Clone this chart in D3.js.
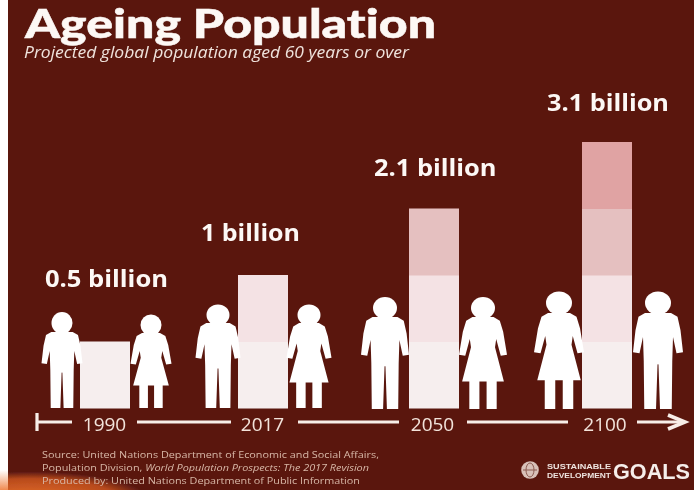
<!DOCTYPE html>
<html><head><meta charset="utf-8">
<script src="https://cdn.jsdelivr.net/npm/d3@7/dist/d3.min.js"></script>
<style>html,body{margin:0;padding:0;background:#fff}svg{display:block}</style>
</head><body><div id="chart"></div>
<script>
const years = ["1990","2017","2050","2100"];
const totalLabels = ["0.5 billion","1 billion","2.1 billion","3.1 billion"];
const blocks = [1,2,3,4];
const titleText = "Ageing Population";
const subtitleText = "Projected global population aged 60 years or over";
const sourceLines = ["Source: United Nations Department of Economic and Social Affairs,","Population Division, ","Produced by: United Nations Department of Public Information"];
const sourceItalic = "World Population Prospects: The 2017 Revision";

const W=694,H=490;
const bg="#5a1911", ink="#fdf8f5";
const blockColors=["#f6eeee","#f4e2e4","#e5c0c0","#e0a3a3"];
const svg=d3.select("#chart").append("svg").attr("width",W).attr("height",H);
const defs=svg.append("defs");
defs.append("filter").attr("id","soft").attr("x","-5%").attr("y","-5%").attr("width","110%").attr("height","110%")
  .append("feGaussianBlur").attr("stdDeviation",0.5);
const glow=defs.append("radialGradient").attr("id","glow").attr("gradientUnits","userSpaceOnUse")
  .attr("cx",30).attr("cy",500).attr("r",118).attr("gradientTransform","translate(30 500) scale(1 .24) translate(-30 -500)");
glow.append("stop").attr("offset",0).attr("stop-color","#e8702c");
glow.append("stop").attr("offset",.75).attr("stop-color","#b84a1c");
glow.append("stop").attr("offset",1).attr("stop-color",bg);
const strip=defs.append("linearGradient").attr("id","strip").attr("x1",0).attr("x2",0).attr("y1",0).attr("y2",1);
strip.append("stop").attr("offset",0).attr("stop-color","#ffffff");
strip.append("stop").attr("offset",1).attr("stop-color","#f08a50");

svg.append("rect").attr("x",0).attr("y",470).attr("width",9).attr("height",20).attr("fill","url(#strip)");
const root=svg.append("g").attr("filter","url(#soft)");
root.append("rect").attr("x",8).attr("y",0).attr("width",W-8).attr("height",H).attr("fill",bg);
root.append("rect").attr("x",8).attr("y",468).attr("width",150).attr("height",22).attr("fill","url(#glow)");

const xBar=d3.scaleOrdinal().domain(years).range([80,238,409,582]);
const xTick=d3.scaleOrdinal().domain(years).range([104,262,432,604.5]);
const y=d3.scaleLinear().domain([0,4]).range([408,142]);
const barW=50;

years.forEach((yr,i)=>{
  root.append("g").selectAll("rect").data(d3.range(blocks[i])).join("rect")
    .attr("x",xBar(yr)).attr("width",barW)
    .attr("y",d=>y(d+1)).attr("height",d=>y(d)-y(d+1)+.5)
    .attr("fill",d=>blockColors[d]);
});

// Pictograms
function half(type){
  return type==="m"
   ? [[0,0],[.52,0],[.78,.04],[.9,.18],[1,.41],[.74,.42],[.6,.25],[.57,.5],[.55,1],[.08,1],[.02,.54],[0,.53]]
   : [[0,0],[.44,0],[.7,.04],[.84,.16],[1,.41],[.74,.42],[.55,.24],[.5,.33],[.87,.7],[.57,.7],[.57,1],[.15,1],[.15,.7],[0,.7]];
}
const line=d3.line().curve(d3.curveLinear);
function personPath(type,hw,h){
  const p=half(type);
  const pts=p.map(d=>[d[0]*hw,d[1]*h]).concat(p.slice().reverse().map(d=>[-d[0]*hw,d[1]*h]));
  return line(pts)+"Z";
}
const figures=[
 {t:"m",cx:62,hy:323,rx:10.5,ry:11,top:332,hw:20.5,foot:408},
 {t:"f",cx:151,hy:325,rx:10.5,ry:10.5,top:333,hw:20.5,foot:408},
 {t:"m",cx:218,hy:315,rx:11.5,ry:10.5,top:323,hw:22.5,foot:408},
 {t:"f",cx:309,hy:315,rx:11.5,ry:10.5,top:323,hw:22.5,foot:408},
 {t:"m",cx:385,hy:308,rx:12,ry:11,top:317,hw:24,foot:409},
 {t:"f",cx:483,hy:308,rx:12,ry:11,top:317,hw:24,foot:409},
 {t:"f",cx:559,hy:303,rx:13,ry:11.5,top:313,hw:25,foot:409},
 {t:"m",cx:658,hy:303,rx:13,ry:11.5,top:313,hw:25,foot:409}
];
const fg=root.append("g").attr("fill","#ffffff");
figures.forEach(f=>{
  fg.append("ellipse").attr("cx",f.cx).attr("cy",f.hy).attr("rx",f.rx).attr("ry",f.ry);
  fg.append("path").attr("transform",`translate(${f.cx},${f.top})`).attr("d",personPath(f.t,f.hw,f.foot-f.top));
});

// Total labels
const labelX=[45,201,374,547], labelY=[287,241,176,111], labelLen=[123,99,122.5,122];
root.append("g").selectAll("text").data(totalLabels).join("text")
  .attr("x",(d,i)=>labelX[i]).attr("y",(d,i)=>labelY[i])
  .attr("textLength",(d,i)=>labelLen[i]).attr("lengthAdjust","spacingAndGlyphs")
  .attr("font-family","'Open Sans'").attr("font-weight",700).attr("font-size",22.5).attr("fill",ink).text(d=>d);

// Timeline axis
const axisG=root.append("g").attr("transform","translate(0,417.5)")
  .call(d3.axisBottom(xTick).tickSize(0).tickPadding(0));
axisG.select(".domain").remove();
axisG.selectAll("text").attr("font-family","'Open Sans'").attr("font-size",19).attr("fill","#f3e3da").attr("dy","0.71em");
const segs=[[37,72],[137,231],[298,399],[467,568],[637,683]];
root.append("g").selectAll("line").data(segs).join("line")
  .attr("x1",d=>d[0]).attr("x2",d=>d[1]).attr("y1",422).attr("y2",422)
  .attr("stroke","#f8eee8").attr("stroke-width",3.2);
root.append("line").attr("x1",37).attr("x2",37).attr("y1",413).attr("y2",431).attr("stroke","#f8eee8").attr("stroke-width",3.2);
root.append("path").attr("d","M668,415 L685,422 L668,429").attr("fill","none").attr("stroke","#f8eee8").attr("stroke-width",3.6);

// Titles
root.append("text").attr("x",25).attr("y",38).attr("font-family","Lato").attr("font-weight",900)
  .attr("font-size",39).attr("fill",ink).attr("stroke",ink).attr("stroke-width",.5)
  .style("font-variant-ligatures","none")
  .attr("textLength",411).attr("lengthAdjust","spacingAndGlyphs").text(titleText);
root.append("text").attr("x",24).attr("y",58).attr("font-family","'Open Sans'").attr("font-style","italic")
  .attr("font-size",15.5).attr("fill","#f0e3dc").attr("textLength",385).attr("lengthAdjust","spacingAndGlyphs").text(subtitleText);

// Source
const src=root.append("g").attr("font-family","'Open Sans'").attr("font-size",9.4).attr("fill","#d9b7a6");
src.append("text").attr("x",42).attr("y",458).attr("textLength",337).attr("lengthAdjust","spacingAndGlyphs").text(sourceLines[0]);
const t2=src.append("text").attr("x",42).attr("y",471).attr("textLength",327).attr("lengthAdjust","spacingAndGlyphs");
t2.append("tspan").text(sourceLines[1]);
t2.append("tspan").attr("font-style","italic").text(sourceItalic);
src.append("text").attr("x",42).attr("y",483.5).attr("textLength",318).attr("lengthAdjust","spacingAndGlyphs").text(sourceLines[2]);

// Logo
const logo=root.append("g");
logo.append("circle").attr("cx",530).attr("cy",470).attr("r",8.8).attr("fill","#d8c0b8");
logo.append("ellipse").attr("cx",530).attr("cy",470).attr("rx",4).attr("ry",7).attr("fill","none").attr("stroke","#8a5a50").attr("stroke-width",1);
logo.append("line").attr("x1",523).attr("x2",537).attr("y1",470).attr("y2",470).attr("stroke","#8a5a50").attr("stroke-width",1);
const narrow="'Liberation Sans Narrow','Liberation Sans'";
logo.append("text").attr("x",547).attr("y",468.5).attr("font-family",narrow).attr("font-weight",700)
  .attr("font-size",7.8).attr("fill","#efe3de").attr("textLength",64).attr("lengthAdjust","spacingAndGlyphs").text("SUSTAINABLE");
logo.append("text").attr("x",547).attr("y",477.5).attr("font-family",narrow).attr("font-weight",700)
  .attr("font-size",7.8).attr("fill","#efe3de").attr("textLength",64).attr("lengthAdjust","spacingAndGlyphs").text("DEVELOPMENT");
logo.append("text").attr("x",613).attr("y",478.5).attr("font-family","'Liberation Sans'").attr("font-weight",700)
  .attr("font-size",22).attr("fill","#f6eeea").attr("textLength",77).attr("lengthAdjust","spacingAndGlyphs").text("GOALS");
</script></body></html>
